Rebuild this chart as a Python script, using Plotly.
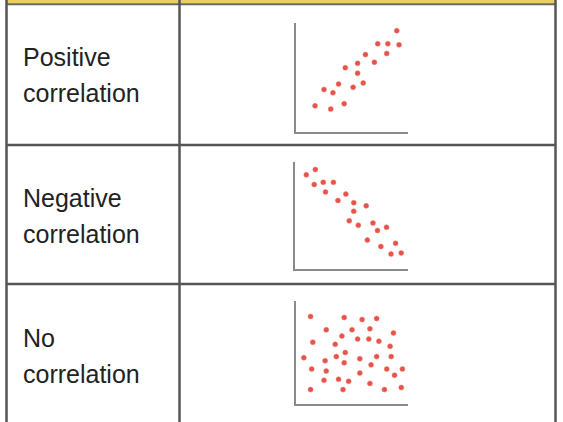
import plotly.graph_objects as go

W, H = 563, 422

# Row labels (two lines each)
row_labels = [
    ("Positive", "correlation"),
    ("Negative", "correlation"),
    ("No", "correlation"),
]

# Positive correlation sample
pos_x = [17, 25, 31, 33, 38, 43, 44, 51, 55, 55, 60, 62, 70, 73, 81, 82, 90, 92]
pos_y = [24, 39, 21, 36, 44, 26, 59, 41, 63, 54, 45, 71, 64, 81, 72, 81, 93, 80]

# Negative correlation sample
neg_x = [10, 18, 17, 25, 34, 27, 38, 45, 52, 63, 52, 48, 56, 69, 73, 81, 64, 76, 89, 85, 94]
neg_y = [88, 93, 79, 81, 81, 72, 64, 70, 62, 59, 54, 45, 41, 43, 36, 39, 27, 21, 24, 14, 15]

# No correlation sample
none_x = [13, 43, 59, 72, 27, 50, 66, 87, 15, 41, 55, 65, 74, 35, 84, 7, 44, 36, 26,
          57, 72, 85, 43, 67, 14, 27, 81, 95, 57, 88, 25, 38, 47, 66, 13, 42, 79, 94]
none_y = [85, 84, 82, 83, 72, 72, 73, 69, 60, 66, 63, 63, 61, 58, 56, 45, 50, 46, 42,
          44, 46, 46, 40, 38, 34, 32, 34, 34, 30, 28, 23, 24, 22, 20, 14, 14, 14, 16]

series = [(pos_x, pos_y), (neg_x, neg_y), (none_x, none_y)]

# Mini-plot boxes in pixels: (left, right, top, bottom)
boxes = [
    (296, 408, 23, 132),
    (295, 408, 162, 269),
    (296, 408, 301, 404),
]


def px(x):
    return x / W


def py(y):
    return 1 - y / H


fig = go.Figure()
layout_axes = {}
for i, ((xs, ys), (l, r, t, b)) in enumerate(zip(series, boxes), start=1):
    suffix = "" if i == 1 else str(i)
    fig.add_trace(go.Scatter(
        x=xs, y=ys, mode="markers",
        marker=dict(size=5, color="rgba(228,64,52,0.9)",
                    line=dict(width=1, color="rgba(240,120,110,0.5)")),
        xaxis="x" + suffix, yaxis="y" + suffix,
        showlegend=False, hoverinfo="skip",
    ))
    common = dict(showgrid=False, zeroline=False, showticklabels=False,
                  ticks="", showline=True, linecolor="#8a8a8a", linewidth=2,
                  range=[0, 100], fixedrange=True)
    layout_axes["xaxis" + suffix] = dict(common, domain=[px(l), px(r)],
                                         anchor="y" + suffix)
    layout_axes["yaxis" + suffix] = dict(common, domain=[py(b), py(t)],
                                         anchor="x" + suffix)

fig.update_layout(**layout_axes)

# Table frame
line_col = "#555555"
shapes = [
    # gold header strip
    dict(type="rect", xref="paper", yref="paper",
         x0=px(6), x1=px(556), y0=py(3.5), y1=py(0),
         fillcolor="#eccd6c", line=dict(width=0)),
    dict(type="line", xref="paper", yref="paper",
         x0=px(6), x1=px(556), y0=py(4.2), y1=py(4.2),
         line=dict(color="#666666", width=2)),
]
for x in (6.5, 179.5, 555.5):
    shapes.append(dict(type="line", xref="paper", yref="paper",
                       x0=px(x), x1=px(x), y0=py(0), y1=py(H),
                       line=dict(color=line_col, width=2.5)))
for y in (145, 284):
    shapes.append(dict(type="line", xref="paper", yref="paper",
                       x0=px(6), x1=px(556), y0=py(y), y1=py(y),
                       line=dict(color=line_col, width=2.5)))

# Row labels
annotations = []
label_centers = [(57, 93), (198, 234), (338, 374)]
for (l1, l2), (c1, c2) in zip(row_labels, label_centers):
    for text, c in ((l1, c1), (l2, c2)):
        annotations.append(dict(
            text=text, x=px(21), y=py(c), xref="paper", yref="paper",
            xanchor="left", yanchor="middle", showarrow=False,
            font=dict(family="Liberation Sans, Arial, sans-serif",
                      size=25, color="#222222"),
        ))

fig.update_layout(
    width=W, height=H,
    margin=dict(l=0, r=0, t=0, b=0),
    paper_bgcolor="white", plot_bgcolor="white",
    shapes=shapes, annotations=annotations,
    showlegend=False,
)

fig.write_html("out.html", config={"displayModeBar": False})
